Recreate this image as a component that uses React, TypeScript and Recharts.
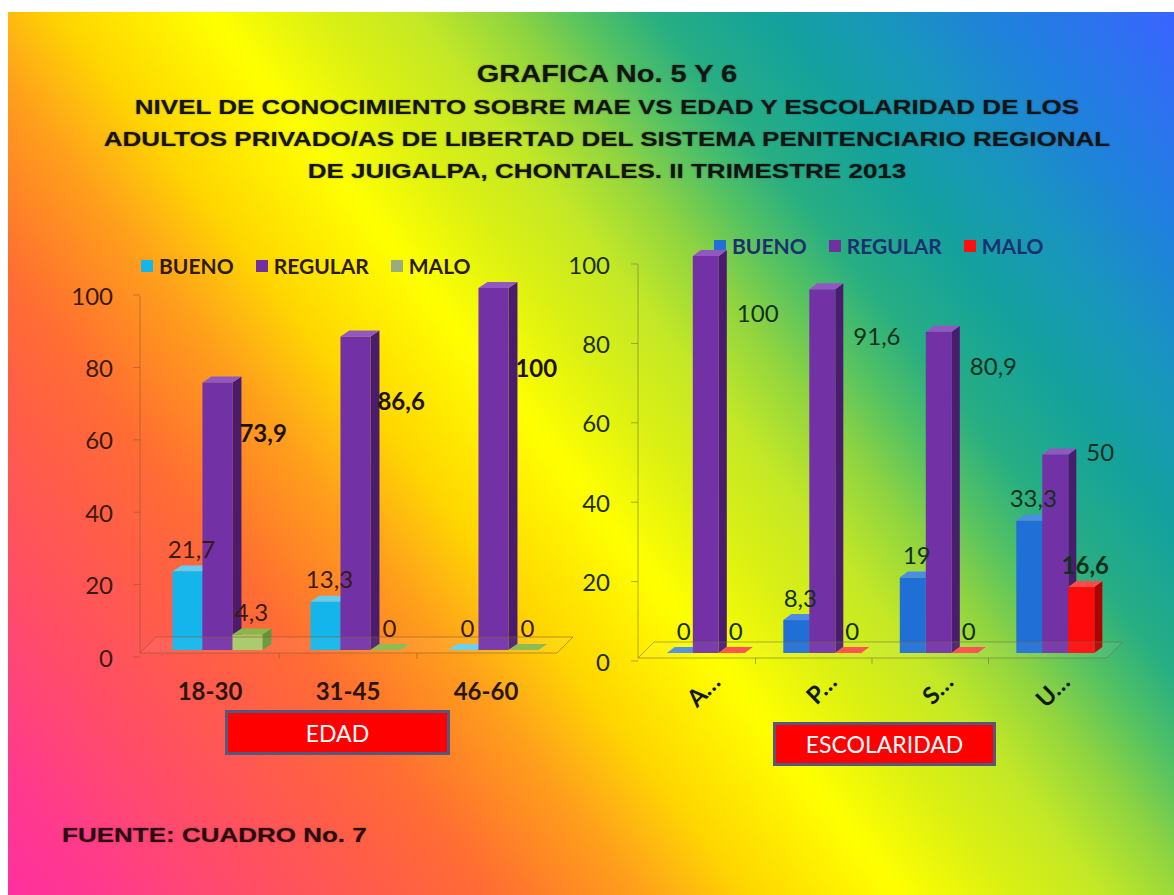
import React from "react";
import { BarChart, Bar, XAxis, YAxis, ReferenceLine } from "recharts";

// GRAFICA 5: edad
const edadCats = ["18-30", "31-45", "46-60"];
const edadBueno = [21.7, 13.3, 0];
const edadRegular = [73.9, 86.6, 100];
const edadMalo = [4.3, 0, 0];

// GRAFICA 6: escolaridad (labels truncated as in the original)
const escCats = ["A…", "P…", "S…", "U…"];
const escBueno = [0, 8.3, 19, 33.3];
const escRegular = [100, 91.6, 80.9, 50];
const escMalo = [0, 0, 0, 16.6];

const yTicks = [0, 20, 40, 60, 80, 100];
const seriesNames = ["BUENO", "REGULAR", "MALO"];

const titleLines = [
  "NIVEL DE CONOCIMIENTO SOBRE MAE VS EDAD Y ESCOLARIDAD DE LOS",
  "ADULTOS PRIVADO/AS DE LIBERTAD DEL SISTEMA PENITENCIARIO REGIONAL",
  "DE JUIGALPA, CHONTALES. II TRIMESTRE 2013",
];

const GRAD =
  "linear-gradient(52deg, #ff2f9e 0%, #ff3a8c 5.4%, #ff4d68 13%, #ff5c4a 20%, #ff6c34 26%, #ff8526 30%, #ff9e1c 34%, #ffba10 37%, #ffd600 40%, #ffff00 48%, #daf014 54%, #c4e826 59%, #90d440 64%, #55c262 68%, #28ae82 72%, #14a29c 78%, #1896bc 84%, #2080dd 90.5%, #3a64ff 100%)";

const FONT = "Lato, 'Open Sans', sans-serif";
const fmt = (v: number) => String(v).replace(".", ",");

const edadData = edadCats.map((c, i) => ({ cat: c, bueno: edadBueno[i], regular: edadRegular[i], malo: edadMalo[i] }));
const escData = escCats.map((c, i) => ({ cat: c, bueno: escBueno[i], regular: escRegular[i], malo: escMalo[i] }));

function box3d(face: string, side: string, top: string, dx: number, dy: number) {
  return (p: any) => {
    const x = +p.x, y = +p.y, w = +p.width, h = Math.max(0, +p.height || 0);
    if (!isFinite(x) || !isFinite(y)) return <g />;
    return (
      <g>
        <polygon points={`${x + w},${y} ${x + w + dx},${y - dy} ${x + w + dx},${y + h - dy} ${x + w},${y + h}`} fill={side} />
        <polygon points={`${x},${y} ${x + dx},${y - dy} ${x + w + dx},${y - dy} ${x + w},${y}`} fill={top} />
        {h > 0 && <rect x={x} y={y} width={w} height={h} fill={face} />}
      </g>
    );
  };
}

const geo = (p: any) => {
  const v = p.viewBox && p.viewBox.width != null ? p.viewBox : p;
  return { x: +v.x, y: +v.y, w: +v.width, h: Math.max(0, +v.height || 0) };
};

// label above the bar (zeros are never bold in the original)
function topLabel(color: string, bold: boolean) {
  return (p: any) => {
    const { x, y, w } = geo(p);
    return (
      <text x={x + w / 2 + 4} y={y - 23} textAnchor="middle" dominantBaseline="central"
        fontSize={24} fontWeight={bold && p.value > 0 ? 700 : 400} fill={color} fontFamily={FONT}>
        {fmt(p.value)}
      </text>
    );
  };
}

// label to the right of the bar, part way down (Excel 3D placement)
function sideLabel(color: string, bold: boolean, gap: number, k: number, c: number) {
  return (p: any) => {
    const { x, y, w, h } = geo(p);
    return (
      <text x={x + w + gap} y={y + k * h + c} textAnchor="start" dominantBaseline="central"
        fontSize={24} fontWeight={bold ? 700 : 400} fill={color} fontFamily={FONT}>
        {fmt(p.value)}
      </text>
    );
  };
}

function floorShape(stroke: string, plotH: number, n: number, front: number, back: number, tickShift: number) {
  return (p: any) => {
    const x1 = +p.x1, x2 = +p.x2, y = +p.y1;
    const ax = x1 - 9;
    const band = (x2 - x1) / n;
    const ticks = [];
    for (let i = 1; i < n; i++) {
      const tx = x1 + i * band - tickShift;
      ticks.push(<line key={i} x1={tx} x2={tx} y1={y + front} y2={y + front + 6} stroke={stroke} />);
    }
    return (
      <g>
        <polygon
          points={`${ax},${y + front} ${x2 - 6},${y + front} ${x2 + 10},${y - back} ${ax + 16},${y - back}`}
          fill="rgba(255,255,255,0.06)" stroke={stroke} strokeWidth={1}
        />
        <line x1={ax} x2={ax} y1={y + front} y2={y - plotH + 8} stroke={stroke} />
        {ticks}
      </g>
    );
  };
}

function yTick(color: string, textGap: number, dy: number, stroke: string) {
  return (p: any) => {
    const { x, y, payload } = p;
    return (
      <g>
        <line x1={x - 16} x2={x - 9} y1={y + dy} y2={y + dy} stroke={stroke} />
        <text x={x - textGap} y={y + dy} textAnchor="end" dominantBaseline="central"
          fontSize={24} fill={color} fontFamily={FONT}>{payload.value}</text>
      </g>
    );
  };
}

const xTickEdad = (p: any) => (
  <text x={p.x - 8} y={p.y + 40} textAnchor="middle" dominantBaseline="central"
    fontSize={24} fontWeight={700} fill="#2a1608" fontFamily={FONT}>{p.payload.value}</text>
);

const xTickEsc = (p: any) => {
  const ax = p.x + 10, ay = p.y + 24;
  return (
    <text x={ax} y={ay} transform={`rotate(-45 ${ax} ${ay})`} textAnchor="end" dominantBaseline="central"
      fontSize={24} fontWeight={700} fill="#101a0c" fontFamily={FONT}>{p.payload.value}</text>
  );
};

function Legend({ left, top, colors, textColor }: { left: number; top: number; colors: string[]; textColor: string }) {
  return (
    <div style={{ position: "absolute", left, top, display: "flex", alignItems: "center", gap: 22, fontFamily: FONT }}>
      {seriesNames.map((n, i) => (
        <div key={n} style={{ display: "flex", alignItems: "center", gap: 6 }}>
          <div style={{ width: 12, height: 12, background: colors[i] }} />
          <span style={{ fontSize: 21, fontWeight: 700, color: textColor, lineHeight: "24px" }}>{n}</span>
        </div>
      ))}
    </div>
  );
}

function RedBox({ left, top, width, height, text }: any) {
  return (
    <div style={{
      position: "absolute", left, top, width, height, boxSizing: "border-box",
      background: "#ff0000", border: "3px solid #52587e", color: "#fff",
      display: "flex", alignItems: "center", justifyContent: "center",
      fontFamily: FONT, fontSize: 23,
    }}>{text}</div>
  );
}

export default function App() {
  const ax1 = "rgba(140,90,40,0.55)";
  const ax2 = "rgba(110,110,70,0.55)";
  return (
    <div style={{ position: "absolute", left: 8, top: 12, width: 1166, height: 883, overflow: "hidden", background: GRAD }}>
      <div style={{
        position: "absolute", left: 99, top: 45, width: 1000, textAlign: "center",
        fontFamily: "'Liberation Sans', Arial, sans-serif", fontWeight: 700, fontSize: 29, lineHeight: "32px",
        color: "#141414", transform: "scaleY(0.85)", textShadow: "0 0 2px rgba(0,0,0,0.45)",
      }}>GRAFICA No. 5 Y 6</div>
      {titleLines.map((t, i) => (
        <div key={i} style={{
          position: "absolute", left: 0, top: 79 + i * 32, width: 1198, textAlign: "center",
          fontFamily: "'Liberation Sans', Arial, sans-serif", fontWeight: 700, fontSize: 26, lineHeight: "32px",
          color: "#141414", transform: "scaleY(0.78)", textShadow: "0 0 2px rgba(0,0,0,0.45)", whiteSpace: "nowrap",
        }}>{t}</div>
      ))}

      <Legend left={133} top={242} colors={["#13b5ea", "#7030a0", "#9aab7d"]} textColor="#2d1a08" />
      <Legend left={706} top={222} colors={["#1f6fd6", "#7030a0", "#ff1010"]} textColor="#1c2f6e" />

      <div style={{ position: "absolute", left: 32, top: 218 }}>
        <BarChart width={545} height={480} data={edadData} margin={{ top: 58, right: 22, bottom: 0, left: 0 }}
          barCategoryGap="17%" barGap={0}>
          <ReferenceLine y={0} stroke="none" shape={floorShape(ax1, 362, 3, 3, 13, 8)} />
          <XAxis dataKey="cat" height={60} axisLine={false} tickLine={false} tickSize={0} tickMargin={0} tick={xTickEdad} />
          <YAxis width={109} domain={[0, 100]} ticks={yTicks} axisLine={false} tickLine={false} tickSize={0} tickMargin={0}
            tick={yTick("#3a1a10", 36, 7, ax1)} />
          <Bar dataKey="bueno" isAnimationActive={false} fill="#13b5ea"
            shape={box3d("#13b5ea", "#0c84b0", "#62cff2", 9, 6)} label={topLabel("#3a1a12", false)} />
          <Bar dataKey="regular" isAnimationActive={false} fill="#7030a0"
            shape={box3d("#7331a6", "#4a1c6e", "#9258c2", 9, 6)} label={sideLabel("#1e1206", true, 7, 0.31, -33)} />
          <Bar dataKey="malo" isAnimationActive={false} fill="#9bbb59"
            shape={box3d("#a6c868", "#5f963a", "#86b84c", 9, 6)} label={topLabel("#3a1a12", false)} />
        </BarChart>
      </div>

      <div style={{ position: "absolute", left: 532, top: 208 }}>
        <BarChart width={634} height={550} data={escData} margin={{ top: 36, right: 61, bottom: 0, left: 0 }}
          barCategoryGap="17%" barGap={0}>
          <ReferenceLine y={0} stroke="none" shape={floorShape(ax2, 397, 4, 5, 11, 8)} />
          <XAxis dataKey="cat" height={117} axisLine={false} tickLine={false} tickSize={0} tickMargin={0} tick={xTickEsc} />
          <YAxis width={107} domain={[0, 100]} ticks={yTicks} axisLine={false} tickLine={false} tickSize={0} tickMargin={0}
            tick={yTick("#1c2e14", 37, 8, ax2)} />
          <Bar dataKey="bueno" isAnimationActive={false} fill="#1f6fd6"
            shape={box3d("#1f6fd6", "#15509e", "#4c8de2", 8, 6)} label={topLabel("#12301a", false)} />
          <Bar dataKey="regular" isAnimationActive={false} fill="#7030a0"
            shape={box3d("#7331a6", "#4a1c6e", "#9258c2", 8, 6)} label={sideLabel("#12301a", false, 18, 0.3, -63)} />
          <Bar dataKey="malo" isAnimationActive={false} fill="#ff0000"
            shape={box3d("#ff0a0a", "#b00000", "#ff4a4a", 8, 6)} label={topLabel("#12301a", true)} />
        </BarChart>
      </div>

      <RedBox left={217} top={698} width={225} height={45} text="EDAD" />
      <RedBox left={765} top={710} width={223} height={44} text="ESCOLARIDAD" />

      <div style={{
        position: "absolute", left: 54, top: 807, fontFamily: "'Liberation Sans', Arial, sans-serif",
        fontWeight: 700, fontSize: 26, lineHeight: "32px", color: "#2a0a10", transform: "scaleY(0.8)",
        transformOrigin: "left center", textShadow: "0 0 2px rgba(0,0,0,0.4)", whiteSpace: "nowrap",
      }}>FUENTE: CUADRO No. 7</div>
    </div>
  );
}
